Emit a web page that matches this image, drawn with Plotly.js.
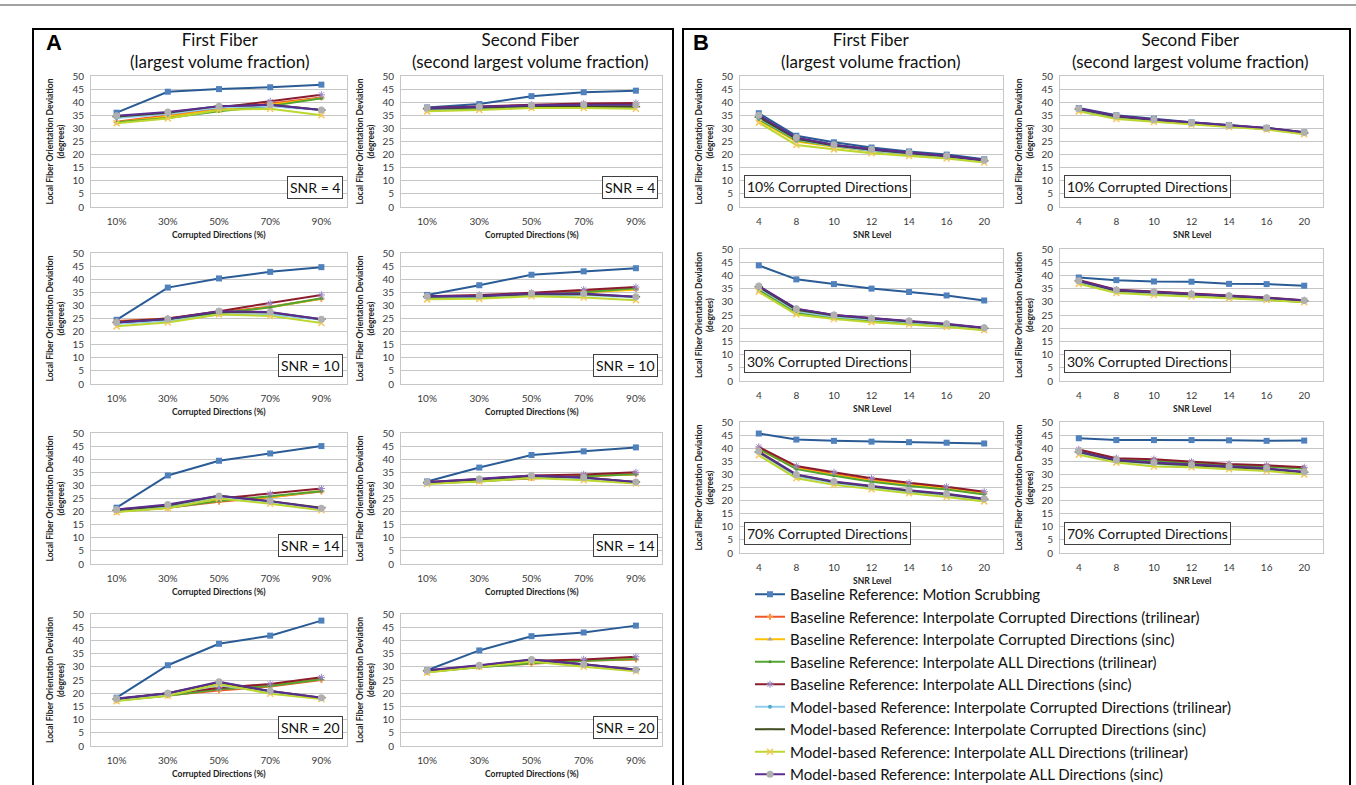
<!DOCTYPE html>
<html><head><meta charset="utf-8">
<script src="https://cdn.plot.ly/plotly-3.0.1.min.js"></script>
<style>html,body{margin:0;padding:0;background:#fff;}#chart{width:1356px;height:785px;}</style>
</head><body><div id="chart"></div>
<script>
const seriesNames = [
  'Baseline Reference: Motion Scrubbing',
  'Baseline Reference: Interpolate Corrupted Directions (trilinear)',
  'Baseline Reference: Interpolate Corrupted Directions (sinc)',
  'Baseline Reference: Interpolate ALL Directions (trilinear)',
  'Baseline Reference: Interpolate ALL Directions (sinc)',
  'Model-based Reference: Interpolate Corrupted Directions (trilinear)',
  'Model-based Reference: Interpolate Corrupted Directions (sinc)',
  'Model-based Reference: Interpolate ALL Directions (trilinear)',
  'Model-based Reference: Interpolate ALL Directions (sinc)'
];
const corruptCats = ['10%','30%','50%','70%','90%'];
const snrCats = ['4','8','10','12','14','16','20'];

// Panel A: x = corrupted directions, one array per series (order of seriesNames)
const A_first_snr4 = [
  [36,44,45,45.7,46.7],[32.5,35,37.5,39.5,41.8],[32.3,34.5,37,39,41.5],[32.3,34,36.5,38.5,41.5],[34.5,36,38,40.3,42.8],
  [34,35.5,38,38.5,37],[34.5,36,38.5,39,37],[32,33.8,37,37.5,35],[34.8,36.3,38.5,39,37]];
const A_second_snr4 = [
  [38,39.3,42.3,43.8,44.4],[37,37.8,38.3,38.8,39],[36.8,37.5,38,38.5,38.8],[37,37.5,38,38,38.3],[37.8,38.5,39,39.5,39.7],
  [37.3,38,38.5,38.5,38.3],[37.5,38,38.5,38.5,38.3],[36.5,37,37.8,37.8,37.5],[37.8,38.3,38.8,39,39]];
const A_first_snr10 = [
  [24.5,36.8,40.3,42.8,44.6],[24,25,27.5,29.5,32.5],[23.8,25,27,29.3,32.5],[23.5,24.5,27,29.3,32.7],[23.8,25,27.8,30.8,34],
  [23,24,26.5,26.5,24.5],[23.5,24.8,27.5,27.3,24.7],[22,23.5,26.5,26,23.3],[23.5,24.8,27.8,27.5,24.7]];
const A_second_snr10 = [
  [34,37.7,41.7,43,44.2],[33,33.5,34.3,35.5,36.3],[33,33.3,34,35,36],[32.8,33,34,35,36.5],[33.5,34,34.8,36,37],
  [33,33.3,34,34,33],[33.3,33.5,34.3,34.3,33.3],[32.3,32.5,33.5,33,32],[33.5,33.7,34.5,34.5,33.3]];
const A_first_snr14 = [
  [21.5,33.8,39.4,42.2,45],[20,21.5,23.8,25.5,27.7],[20,21.7,24.5,25.5,28],[20,21.5,24,25.8,27.8],[20.8,22.3,25,26.8,28.8],
  [20.3,22,25.5,23.5,21],[20.5,22.3,26,24,21.5],[19.8,21.3,25,23,20.5],[20.8,22.7,26,24,21.3]];
const A_second_snr14 = [
  [31.5,36.8,41.6,43,44.5],[31,31.8,32.8,33.5,34.3],[30.8,31.7,33,33.5,34.3],[30.8,31.5,32.8,33.5,34.3],[31.3,32.3,33.8,34.2,35],
  [30.8,32,33.3,32.5,31],[31,32.2,33.5,33,31.3],[30.5,31.5,32.8,32,30.7],[31.2,32.4,33.8,33,31.3]];
const A_first_snr20 = [
  [18.3,30.6,38.7,41.8,47.5],[17.3,19.2,21,22.5,25],[17.3,19.3,22.5,23,25.3],[17.2,19,21.5,22.7,25.3],[17.8,20,22,23.5,26],
  [17.5,19.5,23,20.3,18],[17.8,20,24,20.8,18.3],[17,19,23.5,19.8,17.8],[18,20,24.3,20.8,18.3]];
const A_second_snr20 = [
  [28.7,36.2,41.6,43,45.6],[28,30,31.2,32.3,32.8],[28.2,30,31.8,32.5,33],[28,29.8,31.3,32.3,33],[28.5,30.5,32.3,32.8,33.8],
  [28.3,30.3,32.5,30.5,28.8],[28.5,30.4,32.7,31,29],[27.8,30,32,30,28.3],[28.7,30.6,32.8,31,28.9]];

// Panel B: x = SNR level
const B_first_c10 = [
  [35.8,27.2,24.7,22.7,21.2,20,18.2],[34.5,26,23.5,21.8,20.5,19.3,17.7],[33,25,23,21.3,20,19,17.5],[33.5,25.5,23.3,21.5,20.3,19.2,17.5],
  [34.5,26.2,23.7,22,20.7,19.5,17.8],[34,25.8,23.3,21.5,20.3,19.2,17.6],[34.3,26,23.5,21.8,20.5,19.4,17.7],[32.2,23.7,22,20.5,19.5,18.5,17],
  [35,26.5,23.8,22,20.8,19.6,17.8]];
const B_second_c10 = [
  [37.8,35,33.7,32.3,31.3,30.2,28.5],[37.3,34.5,33.2,32,31,30,28.3],[36.8,34,32.8,31.7,30.7,29.8,28],[37,34.2,33,31.8,30.8,29.8,28],
  [37.5,34.7,33.3,32.1,31.1,30.1,28.4],[37.2,34.3,33,31.8,30.8,29.8,28.1],[37.4,34.5,33.2,32,31,30,28.3],[36.5,33.6,32.5,31.5,30.5,29.6,27.8],
  [37.6,34.8,33.4,32.2,31.2,30.2,28.5]];
const B_first_c30 = [
  [43.8,38.5,36.7,35,33.7,32.4,30.5],[35,26.5,24.5,23.3,22.2,21.2,19.7],[34,25.5,23.8,22.7,21.7,20.8,19.3],[34.5,25.8,24,23,22,21,19.5],
  [35.8,27.3,25,23.8,22.7,21.6,20.2],[35.3,26.5,24.3,23.2,22.2,21.2,19.8],[35.7,27,24.8,23.6,22.5,21.5,20],[33.8,25.2,23.5,22.3,21.4,20.5,19.2],
  [36,27.4,25,23.8,22.7,21.7,20.2]];
const B_second_c30 = [
  [39.2,38.2,37.7,37.6,36.8,36.7,36.1],[37.8,34,33.3,32.7,32,31.2,30.3],[37.3,33.7,33,32.4,31.7,31,30],[37.3,33.6,33,32.3,31.6,30.9,29.8],
  [38.3,34.6,33.9,33.2,32.4,31.6,30.6],[37.6,33.9,33.2,32.5,31.8,31.1,30.2],[37.9,34.2,33.5,32.8,32.1,31.3,30.4],[36.8,33.3,32.6,32,31.4,30.7,29.8],
  [38,34.5,33.7,33,32.3,31.5,30.5]];
const B_first_c70 = [
  [45.6,43.3,42.8,42.5,42.3,42.1,41.8],[40,32.8,30.2,28,26.3,24.8,22.8],[39.5,32.3,29.8,27.5,26,24.5,22.6],[39.8,32,29.5,27.2,25.6,24.2,22.3],
  [40.5,33.2,30.8,28.5,26.8,25.3,23.4],[38.2,29.3,26.7,25,23.4,22,20.2],[38.5,29.8,27.1,25.4,23.8,22.4,20.5],[37.3,28.5,26,24.3,22.8,21.4,19.7],
  [38.8,30,27.3,25.6,24,22.6,20.7]];
const B_second_c70 = [
  [43.8,43.1,43.1,43.1,43,42.8,42.9],[39.2,36,35.4,34.5,33.7,33.2,32.4],[39,35.8,35.3,34.4,33.6,33.1,32.3],[39,35.8,35.2,34.3,33.5,33,32.2],
  [39.5,36.2,35.8,34.8,34,33.5,32.7],[38.2,35,34,33.2,32.5,31.8,30.5],[38.5,35.3,34.3,33.5,32.8,32.1,30.8],[37.5,34.5,33,32.7,32,31.3,30],
  [38.7,35.5,34.5,33.7,33,32.3,31]];

const W = 1356, H = 785;
const px = x => x / W, py = y => 1 - y / H;

const lineColors = ['#2A5B95','#F0562A','#FFC000','#53A532','#8B1C2E','#92CDF0','#3C4A1E','#BDD630','#5B2D8E'];
const markers = [
  {symbol:'square', size:6, color:'#4F81BD'},
  {symbol:'cross', size:5, color:'#F79646'},
  {symbol:'triangle-up', size:5, color:'#A5A5A5'},
  {symbol:'circle', size:3, color:'#4E8F2A'},
  {symbol:'asterisk-open', size:6, color:'#9A88C8', line:{color:'#9A88C8', width:1}},
  {symbol:'circle', size:4, color:'#4BACC6'},
  {symbol:'line-ew-open', size:6, color:'#4A5A2A', line:{color:'#4A5A2A', width:1.5}},
  {symbol:'x-thin-open', size:6, color:'#F5C85A', line:{color:'#F5C85A', width:1.5}},
  {symbol:'circle', size:7, color:'#B0B0B0'}
];

const colA = [[91,347],[401,662]];
const rowsA = [[76,207],[253,384],[433,564],[614,746]];
const colB = [[740,1003],[1060,1323]];
const rowsB = [[76,207],[249,381],[422,553]];

const subplots = [
  {d:A_first_snr4, c:colA[0], r:rowsA[0], cats:corruptCats, box:'SNR = 4', xt:'Corrupted Directions (%)', side:'A'},
  {d:A_second_snr4, c:colA[1], r:rowsA[0], cats:corruptCats, box:'SNR = 4', xt:'Corrupted Directions (%)', side:'A'},
  {d:A_first_snr10, c:colA[0], r:rowsA[1], cats:corruptCats, box:'SNR = 10', xt:'Corrupted Directions (%)', side:'A'},
  {d:A_second_snr10, c:colA[1], r:rowsA[1], cats:corruptCats, box:'SNR = 10', xt:'Corrupted Directions (%)', side:'A'},
  {d:A_first_snr14, c:colA[0], r:rowsA[2], cats:corruptCats, box:'SNR = 14', xt:'Corrupted Directions (%)', side:'A'},
  {d:A_second_snr14, c:colA[1], r:rowsA[2], cats:corruptCats, box:'SNR = 14', xt:'Corrupted Directions (%)', side:'A'},
  {d:A_first_snr20, c:colA[0], r:rowsA[3], cats:corruptCats, box:'SNR = 20', xt:'Corrupted Directions (%)', side:'A'},
  {d:A_second_snr20, c:colA[1], r:rowsA[3], cats:corruptCats, box:'SNR = 20', xt:'Corrupted Directions (%)', side:'A'},
  {d:B_first_c10, c:colB[0], r:rowsB[0], cats:snrCats, box:'10% Corrupted Directions', xt:'SNR Level', side:'B'},
  {d:B_second_c10, c:colB[1], r:rowsB[0], cats:snrCats, box:'10% Corrupted Directions', xt:'SNR Level', side:'B'},
  {d:B_first_c30, c:colB[0], r:rowsB[1], cats:snrCats, box:'30% Corrupted Directions', xt:'SNR Level', side:'B'},
  {d:B_second_c30, c:colB[1], r:rowsB[1], cats:snrCats, box:'30% Corrupted Directions', xt:'SNR Level', side:'B'},
  {d:B_first_c70, c:colB[0], r:rowsB[2], cats:snrCats, box:'70% Corrupted Directions', xt:'SNR Level', side:'B'},
  {d:B_second_c70, c:colB[1], r:rowsB[2], cats:snrCats, box:'70% Corrupted Directions', xt:'SNR Level', side:'B'}
];

const traces = [];
const annotations = [];
const layout = {
  width: W, height: H, margin:{l:0,r:0,t:0,b:0, autoexpand:false}, paper_bgcolor:'#fff', plot_bgcolor:'#fff',
  showlegend: true,
  legend: {x: px(750), y: py(578), xanchor:'left', yanchor:'top', font:{family:'Lato', size:15, color:'#111'},
           bgcolor:'rgba(0,0,0,0)', itemwidth:30, traceorder:'normal', itemclick:false},
  font:{family:'Lato'},
  shapes: [
    {type:'line', xref:'paper', yref:'paper', x0:0, x1:1, y0:py(5), y1:py(5), line:{color:'#444', width:1}},
    {type:'rect', xref:'paper', yref:'paper', x0:px(33), x1:px(673), y0:py(29), y1:py(800), line:{color:'#000', width:2}},
    {type:'rect', xref:'paper', yref:'paper', x0:px(683), x1:px(1350), y0:py(29), y1:py(800), line:{color:'#000', width:2}}
  ],
  annotations: annotations
};

subplots.forEach((sp, i) => {
  const k = i + 1, suf = k === 1 ? '' : String(k);
  const xa = 'x' + suf, ya = 'y' + suf;
  sp.d.forEach((vals, s) => {
    traces.push({
      type:'scatter', mode:'lines+markers', x: sp.cats, y: vals, xaxis: xa, yaxis: ya,
      name: seriesNames[s], legendgroup: 's' + s, showlegend: i === 0,
      line:{color: lineColors[s], width: 2}, marker: markers[s], hoverinfo:'skip'
    });
  });
  layout['xaxis' + suf] = {
    domain:[px(sp.c[0]), px(sp.c[1])], anchor: ya, type:'category', range:[-0.5, sp.cats.length - 0.5],
    showgrid:false, zeroline:false, showline:true, linecolor:'#C6C6C6', linewidth:1, mirror:true, automargin:false,
    ticks:'', ticklabelstandoff:5, tickfont:{family:'Lato', size:10, color:'#3A3A3A'}, fixedrange:true
  };
  layout['yaxis' + suf] = {
    domain:[py(sp.r[1]), py(sp.r[0])], anchor: xa, range:[0, 50], dtick:5, tick0:0, automargin:false,
    showgrid:true, gridcolor:'#C6C6C6', gridwidth:1, zeroline:false, showline:true, linecolor:'#C6C6C6', mirror:true,
    ticks:'', ticklabelstandoff:4, tickfont:{family:'Lato', size:10, color:'#3A3A3A'}, fixedrange:true
  };
  const cx = (sp.c[0] + sp.c[1]) / 2;
  annotations.push({xref:'paper', yref:'paper', x: px(cx), y: py(sp.r[1] + 28), xanchor:'center', yanchor:'middle',
    text:'<b>' + sp.xt + '</b>', showarrow:false, font:{family:'Lato', size:8.5, color:'#222'}});
  annotations.push({xref:'paper', yref:'paper', x: px(sp.c[0] - 36), y: py((sp.r[0] + sp.r[1]) / 2), xanchor:'center', yanchor:'middle',
    text:'<b>Local Fiber Orientation Deviation<br>(degrees)</b>', textangle:-90, showarrow:false,
    font:{family:'Lato', size:8.5, color:'#222'}});
  if (sp.side === 'A') {
    annotations.push({xref:'paper', yref:'paper', x: px(sp.c[1] - 4), y: py(sp.r[1] - 19), xanchor:'right', yanchor:'middle',
      text: sp.box, showarrow:false, bgcolor:'#fff', bordercolor:'#404040', borderwidth:1, borderpad:2,
      font:{family:'Lato', size:14, color:'#111'}});
  } else {
    annotations.push({xref:'paper', yref:'paper', x: px(sp.c[0] + 4), y: py(sp.r[1] - 20), xanchor:'left', yanchor:'middle',
      text: sp.box, showarrow:false, bgcolor:'#fff', bordercolor:'#404040', borderwidth:1, borderpad:2,
      font:{family:'Lato', size:14, color:'#111'}});
  }
});

[[219,'First Fiber<br>(largest volume fraction)'],[530,'Second Fiber<br>(second largest volume fraction)'],
 [870,'First Fiber<br>(largest volume fraction)'],[1190,'Second Fiber<br>(second largest volume fraction)']].forEach(h => {
  annotations.push({xref:'paper', yref:'paper', x: px(h[0]), y: py(51), xanchor:'center', yanchor:'middle',
    text: h[1], showarrow:false, font:{family:'Lato', size:17, color:'#111'}});
});
annotations.push({xref:'paper', yref:'paper', x: px(54), y: py(43), xanchor:'center', yanchor:'middle',
  text:'<b>A</b>', showarrow:false, font:{family:'Liberation Sans', size:22, color:'#000'}});
annotations.push({xref:'paper', yref:'paper', x: px(701), y: py(43), xanchor:'center', yanchor:'middle',
  text:'<b>B</b>', showarrow:false, font:{family:'Liberation Sans', size:22, color:'#000'}});

Plotly.newPlot('chart', traces, layout, {staticPlot:true, displayModeBar:false});
</script></body></html>
